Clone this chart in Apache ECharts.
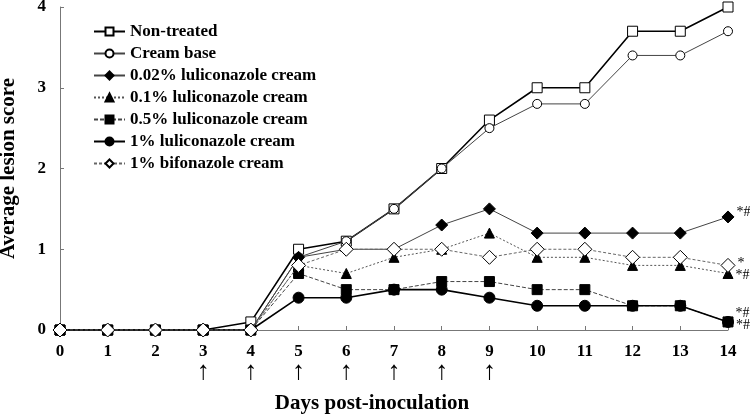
<!DOCTYPE html>
<html>
<head>
<meta charset="utf-8">
<script src="https://cdn.jsdelivr.net/npm/echarts@6/dist/echarts.min.js"></script>
<style>
html,body{margin:0;padding:0;background:#fff;}
#chart{width:750px;height:418px;}
</style>
</head>
<body>
<div id="chart"></div>
<script>
const days = [0,1,2,3,4,5,6,7,8,9,10,11,12,13,14];
const yTicks = [0,1,2,3,4];
const arrowDays = [3,4,5,6,7,8,9];

const seriesNames = [
  'Non-treated',
  'Cream base',
  '0.02% luliconazole cream',
  '0.1% luliconazole cream',
  '0.5% luliconazole cream',
  '1% luliconazole cream',
  '1% bifonazole cream'
];
const nonTreated = [0,0,0,0,0.1,1.0,1.1,1.5,2.0,2.6,3.0,3.0,3.7,3.7,4.0];
const creamBase  = [0,0,0,0,0,0.9,1.1,1.5,2.0,2.5,2.8,2.8,3.4,3.4,3.7];
const luli002    = [0,0,0,0,0,0.9,1.0,1.0,1.3,1.5,1.2,1.2,1.2,1.2,1.4];
const luli01     = [0,0,0,0,0,0.8,0.7,0.9,1.0,1.2,0.9,0.9,0.8,0.8,0.7];
const luli05     = [0,0,0,0,0,0.7,0.5,0.5,0.6,0.6,0.5,0.5,0.3,0.3,0.1];
const luli1      = [0,0,0,0,0,0.4,0.4,0.5,0.5,0.4,0.3,0.3,0.3,0.3,0.1];
const bifonazole = [0,0,0,0,0,0.8,1.0,1.0,1.0,0.9,1.0,1.0,0.9,0.9,0.8];
const finalMarks = ['', '', '*#', '*#', '*#', '*#', '*'];

const values = [nonTreated, creamBase, luli002, luli01, luli05, luli1, bifonazole];

const FONT = '"Liberation Serif", "Times New Roman", serif';

const styles = [
  {symbol:'rect', size:10, fill:'#fff', line:{color:'#000', width:1.6, type:'solid'}},
  {symbol:'circle', size:9, fill:'#fff', line:{color:'#444', width:1, type:'solid'}},
  {symbol:'diamond', size:12, fill:'#000', line:{color:'#444', width:1, type:'solid'}},
  {symbol:'triangle', size:10, fill:'#000', line:{color:'#555', width:1, type:[2,2]}},
  {symbol:'rect', size:10, fill:'#000', line:{color:'#444', width:1, type:[4,2]}},
  {symbol:'circle', size:11, fill:'#000', line:{color:'#000', width:1.6, type:'solid'}},
  {symbol:'diamond', size:14, fill:'#fff', line:{color:'#666', width:1, type:[3,2]}}
];
const labelOffsets = [[0,0],[0,0],[0,-5],[0,2],[0,-9],[0,3],[0,-2]];

const series = seriesNames.map((name, i) => {
  const st = styles[i];
  const data = days.map((d, j) => {
    const item = { value: [d, values[i][j]] };
    if (j === days.length - 1 && finalMarks[i]) {
      item.label = {
        show: true,
        formatter: finalMarks[i],
        position: 'right',
        distance: 2,
        offset: labelOffsets[i],
        fontFamily: FONT,
        fontSize: 14,
        color: '#000'
      };
    }
    return item;
  });
  return {
    name: name,
    type: 'line',
    data: data,
    symbol: st.symbol,
    symbolSize: st.size,
    showAllSymbol: true,
    itemStyle: { color: st.fill, borderColor: '#000', borderWidth: 1 },
    lineStyle: { color: st.line.color, width: st.line.width, type: st.line.type },
    emphasis: { disabled: true },
    animation: false,
    z: 2 + i
  };
});

const chart = echarts.init(document.getElementById('chart'), null, {renderer: 'canvas'});
chart.setOption({
  backgroundColor: '#fff',
  animation: false,
  grid: { left: 60, right: 22, top: 7, bottom: 88, containLabel: false, outerBoundsMode: 'none' },
  legend: {
    orient: 'vertical',
    left: 93,
    top: 23,
    padding: 0,
    itemWidth: 31,
    itemHeight: 10,
    itemGap: 5,
    data: seriesNames,
    textStyle: { fontFamily: FONT, fontWeight: 'bold', fontSize: 17, color: '#000', lineHeight: 17 }
  },
  xAxis: {
    type: 'value',
    min: 0,
    max: 14,
    interval: 1,
    name: 'Days post-inoculation',
    nameLocation: 'middle',
    nameGap: 63,
    nameTextStyle: { fontFamily: FONT, fontWeight: 'bold', fontSize: 21, color: '#000', padding: [0, 44, 0, 0] },
    axisLine: { lineStyle: { color: '#777', width: 1 } },
    axisTick: { inside: true, length: 4, lineStyle: { color: '#777' } },
    splitLine: { show: false },
    axisLabel: {
      margin: 12,
      lineHeight: 20,
      fontFamily: FONT,
      fontWeight: 'bold',
      fontSize: 17,
      color: '#000',
      formatter: function (v) {
        if (arrowDays.indexOf(v) >= 0) return '{a|' + v + '}\n{b|↑}';
        return '{a|' + v + '}';
      },
      rich: {
        a: { fontFamily: FONT, fontWeight: 'bold', fontSize: 17, color: '#000', lineHeight: 19 },
        b: { fontFamily: FONT, fontSize: 26, color: '#000', lineHeight: 22 }
      }
    }
  },
  yAxis: {
    type: 'value',
    min: yTicks[0],
    max: yTicks[yTicks.length - 1],
    interval: 1,
    name: 'Average lesion score',
    nameLocation: 'middle',
    nameGap: 41,
    nameRotate: 90,
    nameTextStyle: { fontFamily: FONT, fontWeight: 'bold', fontSize: 21, color: '#000' },
    axisLine: { show: true, lineStyle: { color: '#777', width: 1 } },
    axisTick: { show: true, inside: true, length: 4, lineStyle: { color: '#777' } },
    splitLine: { show: false },
    axisLabel: { margin: 14, fontFamily: FONT, fontWeight: 'bold', fontSize: 17, color: '#000' }
  },
  series: series
});
</script>
</body>
</html>
